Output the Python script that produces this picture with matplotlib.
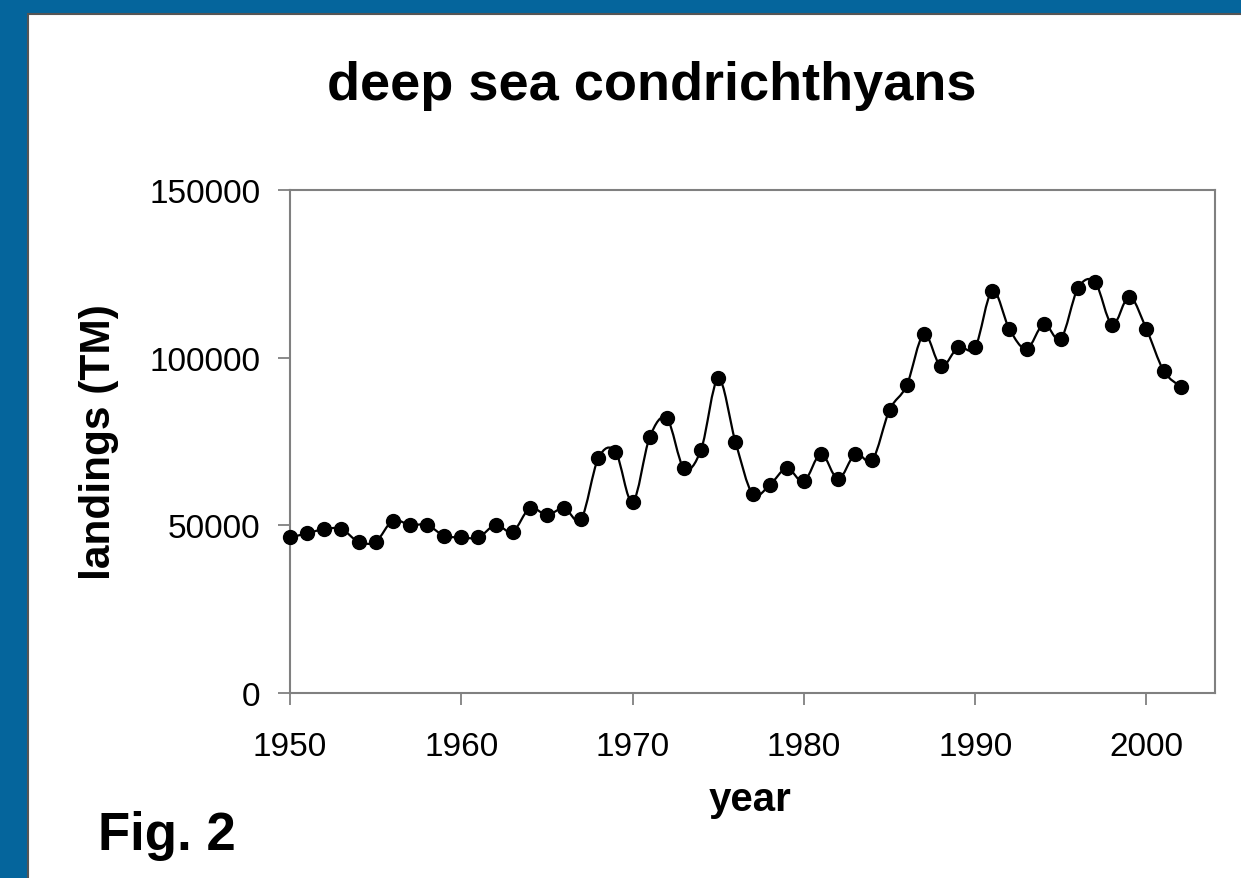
import numpy as np
import matplotlib
matplotlib.use("Agg")
import matplotlib.pyplot as plt
from matplotlib.path import Path
from matplotlib.patches import PathPatch, Rectangle

plt.rcParams['font.family'] = ['Liberation Sans', 'DejaVu Sans']

years = list(range(1950, 2003))
landings = [46400, 47600, 48900, 48900, 45100, 45100, 51400, 50100, 50100, 46900,
            46400, 46400, 50100, 48100, 55100, 53100, 55100, 51900, 70000, 72000,
            56900, 76300, 81900, 67000, 72600, 93800, 75000, 59400, 62000, 67000,
            63100, 71300, 63800, 71300, 69500, 84400, 91700, 107000, 97400, 103100,
            103100, 120000, 108500, 102600, 110000, 105600, 120700, 122500, 109800, 118200,
            108500, 96100, 91300]
xticks = [1950, 1960, 1970, 1980, 1990, 2000]
yticks = [0, 50000, 100000, 150000]

W, H = 1241, 879
fig = plt.figure(figsize=(W / 100, H / 100), dpi=100)
fig.patch.set_facecolor('#05659C')

# white slide panel
fig.patches.append(Rectangle((28 / W, -0.05), 1.0, 1 - 15 / H + 0.05,
                             transform=fig.transFigure, facecolor='white',
                             edgecolor='#555555', linewidth=1.5, zorder=-5))

ax = fig.add_axes([290 / W, 1 - 694 / H, 925 / W, 503 / H])
ax.set_zorder(2)
ax.set_facecolor('white')

# smoothed line (Excel style), drawn as bezier path through the data
pts = np.column_stack([years, landings]).astype(float)
verts = [pts[0]]
codes = [Path.MOVETO]
n = len(pts)
for i in range(n - 1):
    p0 = pts[max(i - 1, 0)]
    p1 = pts[i]
    p2 = pts[i + 1]
    p3 = pts[min(i + 2, n - 1)]
    verts += [p1 + (p2 - p0) / 6, p2 - (p3 - p1) / 6, p2]
    codes += [Path.CURVE4] * 3
ax.add_patch(PathPatch(Path(verts, codes), facecolor='none', edgecolor='black',
                       linewidth=1.6, zorder=2))
ax.plot(years, landings, linestyle='none', marker='o', markersize=10,
        color='black', zorder=3, clip_on=False)

ax.set_xlim(1950, 2004)
ax.set_ylim(0, 150000)
ax.set_xticks(xticks)
ax.set_yticks(yticks)
for s in ax.spines.values():
    s.set_color('#808080')
    s.set_linewidth(1.5)
ax.tick_params(direction='out', length=8.5, width=1.3, color='#808080',
               labelsize=24)
ax.tick_params(axis='x', pad=19)
ax.tick_params(axis='y', pad=13)

fig.text(652 / W, 1 - 86 / H, 'deep sea condrichthyans', ha='center', va='center',
         fontsize=39, fontweight='bold')
fig.text(99 / W, 1 - 442 / H, 'landings (TM)', ha='center', va='center',
         rotation=90, fontsize=30.5, fontweight='bold')
fig.text(750 / W, 1 - 800 / H, 'year', ha='center', va='center',
         fontsize=29, fontweight='bold')
fig.text(98 / W, 1 - 836 / H, 'Fig. 2', ha='left', va='center',
         fontsize=38, fontweight='bold')

fig.savefig('out.png', dpi=100, facecolor=fig.get_facecolor())
